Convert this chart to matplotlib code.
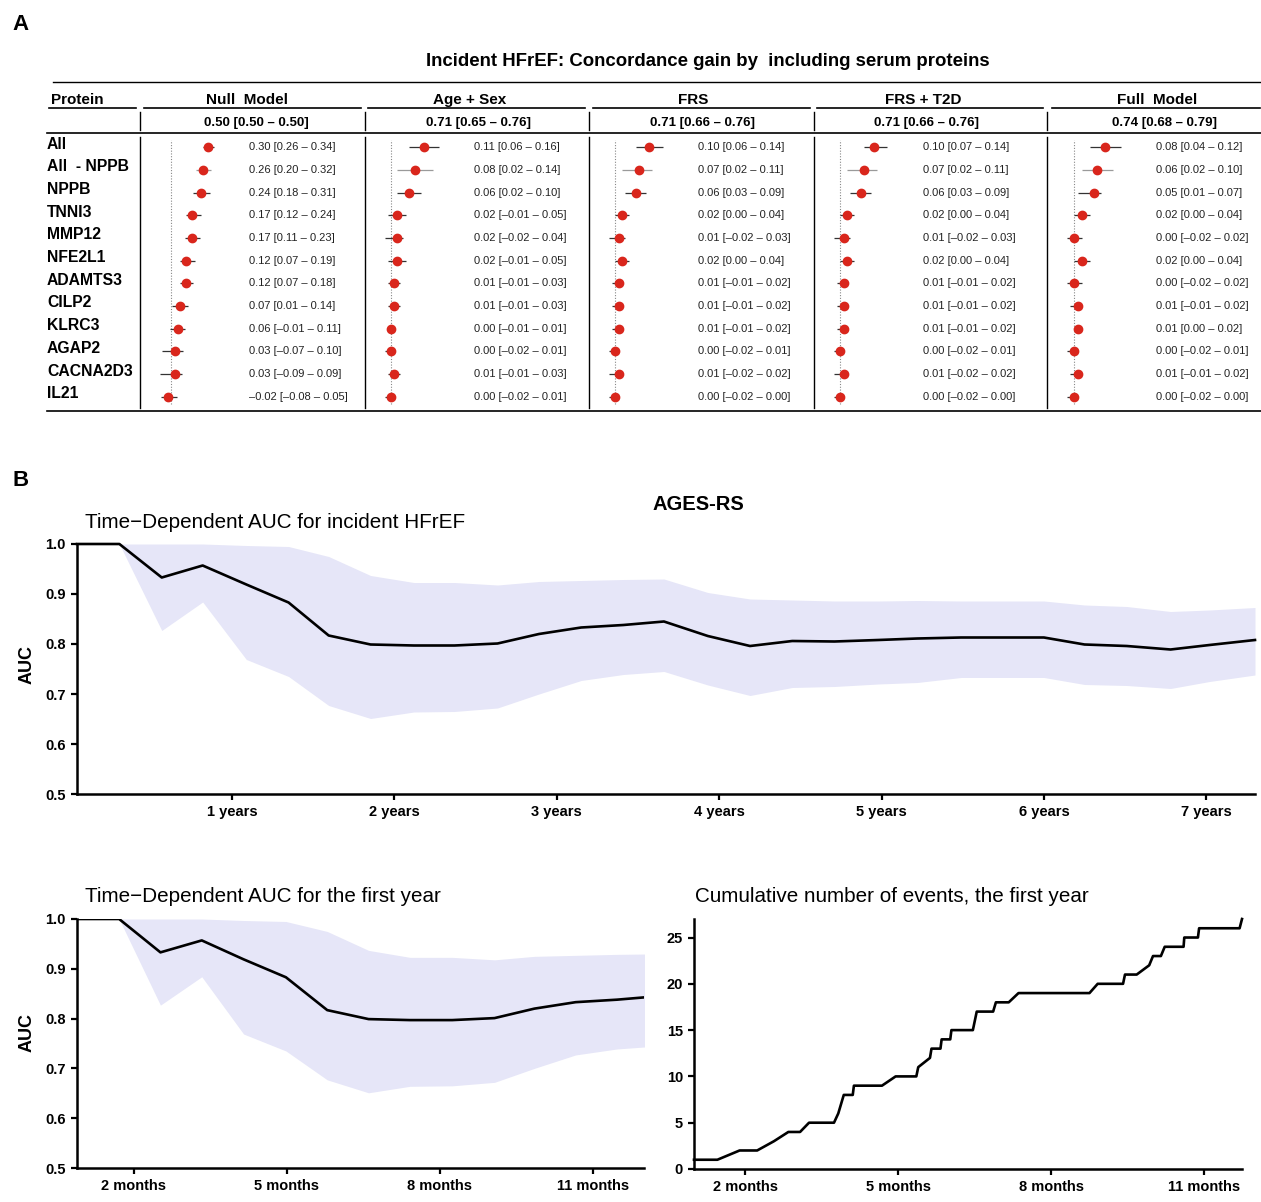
import matplotlib
matplotlib.use('Agg')
import matplotlib.pyplot as plt

W, H = 1261, 1202
DPI = 100
plt.rcParams['font.family'] = ['Liberation Sans', 'DejaVu Sans']

# ---------------- Panel A data ----------------
proteins = ['All', 'All  - NPPB', 'NPPB', 'TNNI3', 'MMP12', 'NFE2L1', 'ADAMTS3',
            'CILP2', 'KLRC3', 'AGAP2', 'CACNA2D3', 'IL21']
models = ['Null  Model', 'Age + Sex', 'FRS', 'FRS + T2D', 'Full  Model']
baseline = ['0.50 [0.50 – 0.50]', '0.71 [0.65 – 0.76]', '0.71 [0.66 – 0.76]',
            '0.71 [0.66 – 0.76]', '0.74 [0.68 – 0.79]']

null_est = [0.30, 0.26, 0.24, 0.17, 0.17, 0.12, 0.12, 0.07, 0.06, 0.03, 0.03, -0.02]
null_lo = [0.26, 0.20, 0.18, 0.12, 0.11, 0.07, 0.07, 0.01, -0.01, -0.07, -0.09, -0.08]
null_hi = [0.34, 0.32, 0.31, 0.24, 0.23, 0.19, 0.18, 0.14, 0.11, 0.10, 0.09, 0.05]

age_est = [0.11, 0.08, 0.06, 0.02, 0.02, 0.02, 0.01, 0.01, 0.00, 0.00, 0.01, 0.00]
age_lo = [0.06, 0.02, 0.02, -0.01, -0.02, -0.01, -0.01, -0.01, -0.01, -0.02, -0.01, -0.02]
age_hi = [0.16, 0.14, 0.10, 0.05, 0.04, 0.05, 0.03, 0.03, 0.01, 0.01, 0.03, 0.01]

frs_est = [0.10, 0.07, 0.06, 0.02, 0.01, 0.02, 0.01, 0.01, 0.01, 0.00, 0.01, 0.00]
frs_lo = [0.06, 0.02, 0.03, 0.00, -0.02, 0.00, -0.01, -0.01, -0.01, -0.02, -0.02, -0.02]
frs_hi = [0.14, 0.11, 0.09, 0.04, 0.03, 0.04, 0.02, 0.02, 0.02, 0.01, 0.02, 0.00]

t2d_est = [0.10, 0.07, 0.06, 0.02, 0.01, 0.02, 0.01, 0.01, 0.01, 0.00, 0.01, 0.00]
t2d_lo = [0.07, 0.02, 0.03, 0.00, -0.02, 0.00, -0.01, -0.01, -0.01, -0.02, -0.02, -0.02]
t2d_hi = [0.14, 0.11, 0.09, 0.04, 0.03, 0.04, 0.02, 0.02, 0.02, 0.01, 0.02, 0.00]

full_est = [0.08, 0.06, 0.05, 0.02, 0.00, 0.02, 0.00, 0.01, 0.01, 0.00, 0.01, 0.00]
full_lo = [0.04, 0.02, 0.01, 0.00, -0.02, 0.00, -0.02, -0.01, 0.00, -0.02, -0.01, -0.02]
full_hi = [0.12, 0.10, 0.07, 0.04, 0.02, 0.04, 0.02, 0.02, 0.02, 0.01, 0.02, 0.00]

# ---------------- Panel B data ----------------
auc_years = [0.045, 0.306, 0.567, 0.819, 1.088, 1.348, 1.595, 1.853, 2.12, 2.37,
             2.635, 2.89, 3.15, 3.41, 3.66, 3.93, 4.19, 4.45, 4.71, 4.98, 5.22,
             5.49, 5.75, 6.0, 6.25, 6.51, 6.78, 7.02, 7.30]
auc = [1.0, 1.0, 0.933, 0.957, 0.919, 0.883, 0.817, 0.799, 0.797, 0.797,
       0.801, 0.82, 0.833, 0.838, 0.845, 0.816, 0.796, 0.806, 0.805, 0.808, 0.811,
       0.813, 0.813, 0.813, 0.799, 0.796, 0.789, 0.798, 0.808]
auc_upper = [1.0, 1.0, 1.0, 1.0, 0.997, 0.995, 0.975, 0.937, 0.923, 0.923,
             0.918, 0.925, 0.927, 0.929, 0.930, 0.903, 0.89, 0.888, 0.886, 0.886, 0.887,
             0.886, 0.886, 0.886, 0.878, 0.875, 0.865, 0.868, 0.873]
auc_lower = [1.0, 1.0, 0.827, 0.884, 0.769, 0.735, 0.677, 0.651, 0.664, 0.665,
             0.672, 0.70, 0.727, 0.739, 0.745, 0.718, 0.697, 0.713, 0.715, 0.72, 0.723,
             0.733, 0.733, 0.733, 0.719, 0.717, 0.711, 0.725, 0.738]

# first-year view (months); the first 15 AUC points
fy_months = [0.884, 1.71, 2.52, 3.33, 4.15, 4.98, 5.79, 6.6, 7.41, 8.24,
             9.07, 9.85, 10.66, 11.47, 12.28]
fy_end = 12.0

# cumulative number of events in the first year
ev_months = [0.99, 1.449, 1.885, 2.23, 2.559, 2.842, 3.072, 3.248, 3.738, 3.822,
             3.876, 3.93, 4.106, 4.129, 4.68, 4.948, 5.354, 5.392, 5.622, 5.652,
             5.828, 5.851, 6.02, 6.043, 6.464, 6.54, 6.862, 6.916, 7.168, 7.36,
             8.753, 8.914, 9.412, 9.45, 9.68, 9.925, 10.0, 10.155, 10.23, 10.6,
             10.614, 10.882, 10.905, 11.70, 11.747]
ev_count = [1, 1, 2, 2, 3, 4, 4, 5, 5, 6,
            7, 8, 8, 9, 9, 10, 10, 11, 12, 13,
            13, 14, 14, 15, 15, 17, 17, 18, 18, 19,
            19, 20, 20, 21, 21, 22, 23, 23, 24, 24,
            25, 25, 26, 26, 27]

year_ticks = [1, 2, 3, 4, 5, 6, 7]
month_ticks = [2, 5, 8, 11]
auc_ticks = [0.5, 0.6, 0.7, 0.8, 0.9, 1.0]
ev_ticks = [0, 5, 10, 15, 20, 25]

# ---------------- helpers ----------------
fig = plt.figure(figsize=(W / DPI, H / DPI), dpi=DPI)

def px_axes(l, t, r, b):
    return fig.add_axes([l / W, 1 - b / H, (r - l) / W, (b - t) / H])

# overlay axes in pixel coordinates for table text and rules
ov = fig.add_axes([0, 0, 1, 1])
ov.set_xlim(0, W)
ov.set_ylim(H, 0)
ov.axis('off')

def fmt(v):
    s = f'{v:.2f}'
    return s.replace('-', '–')

# ---------------- Panel A ----------------
ov.text(12, 24, 'A', fontsize=16, fontweight='bold', va='center', ha='left')
ov.text(708, 61, 'Incident HFrEF: Concordance gain by  including serum proteins',
        fontsize=13.4, fontweight='bold', ha='center', va='center')

col_left = [140, 365, 589, 814, 1047]
col_right = [365, 589, 814, 1047, 1261]
under_l = [144, 368, 593, 817, 1052]
under_r = [361, 585, 810, 1043, 1260]
head_x = [247, 470, 693, 923, 1157]
base_x = [256, 479, 702, 926, 1165]

row0 = 147.3
dy = 22.67
nrow = len(proteins)
rows_top = row0 - dy / 2
rows_bot = row0 + dy * (nrow - 1) + dy / 2

# rules
ov.plot([53, W], [82, 82], color='black', lw=1.0)
ov.plot([49, 136], [108, 108], color='black', lw=1.2)
for l, r in zip(under_l, under_r):
    ov.plot([l, r], [108, 108], color='black', lw=1.2)
ov.plot([47, W], [133, 133], color='black', lw=1.2)
ov.plot([47, W], [411, 411], color='black', lw=1.2)
for x in col_left:
    ov.plot([x, x], [112, 130], color='black', lw=1.0)
    ov.plot([x, x], [137, 408], color='black', lw=1.0)

ov.text(51, 100, 'Protein', fontsize=11, fontweight='bold', ha='left', va='center')
for j, m in enumerate(models):
    ov.text(head_x[j], 100, m, fontsize=11, fontweight='bold', ha='center', va='center')
    ov.text(base_x[j], 122.7, baseline[j], fontsize=9.5, fontweight='bold',
            ha='center', va='center')

for i, p in enumerate(proteins):
    ov.text(47, row0 + i * dy - 3, p, fontsize=11.3, fontweight='bold',
            ha='left', va='center')

series = [(null_est, null_lo, null_hi), (age_est, age_lo, age_hi),
          (frs_est, frs_lo, frs_hi), (t2d_est, t2d_lo, t2d_hi),
          (full_est, full_lo, full_hi)]
dot_color = '#D9261C'
for j, (est, lo, hi) in enumerate(series):
    left = col_left[j] + 19.5
    fa = px_axes(left, rows_top, left + 54, rows_bot)
    fa.axis('off')
    fa.set_xlim(min(lo), max(hi))
    fa.set_ylim(nrow - 0.5, -0.5)
    fa.axvline(0, ymin=0.015, ymax=0.985, color='#888888', lw=0.8, ls=(0, (1, 1.5)))
    for i in range(nrow):
        c = '#9a9a9a' if i == 1 else '#333333'
        fa.plot([lo[i], hi[i]], [i, i], color=c, lw=0.9, clip_on=False,
                solid_capstyle='butt')
        fa.plot(est[i], i, 'o', color=dot_color, ms=6, mec=dot_color, clip_on=False)
        lab = f'{fmt(est[i])} [{fmt(lo[i])} – {fmt(hi[i])}]'
        ov.text(col_left[j] + 109, row0 + i * dy, lab, fontsize=8, color='#222222',
                ha='left', va='center')

# ---------------- Panel B ----------------
ov.text(12, 481, 'B', fontsize=16, fontweight='bold', va='center', ha='left')
ov.text(698, 505, 'AGES-RS', fontsize=14.5, fontweight='bold', ha='center', va='center')

def style(ax):
    for s in ['top', 'right']:
        ax.spines[s].set_visible(False)
    for s in ['left', 'bottom']:
        ax.spines[s].set_linewidth(1.8)
    ax.tick_params(axis='both', length=4, width=1.6, labelsize=10.5, pad=4)
    for lab in ax.get_xticklabels() + ax.get_yticklabels():
        lab.set_fontweight('bold')

band = '#E6E6F8'

# top AUC plot
a1 = px_axes(77, 544, 1255, 794)
a1.fill_between(auc_years, auc_lower, auc_upper, color=band, lw=0)
a1.plot(auc_years, auc, color='black', lw=1.9, clip_on=False)
a1.set_xlim(auc_years[0], auc_years[-1])
a1.set_ylim(0.5, 1.0)
a1.set_xticks(year_ticks)
a1.set_xticklabels([f'{t} years' for t in year_ticks])
a1.set_yticks(auc_ticks)
a1.set_yticklabels([f'{t:.1f}' for t in auc_ticks])
style(a1)
ov.text(85, 522, 'Time−Dependent AUC for incident HFrEF', fontsize=14.9,
        ha='left', va='center')
ov.text(27, 665, 'AUC', fontsize=13, fontweight='bold', rotation=90,
        ha='center', va='center')

# first-year AUC plot
n_fy = len(fy_months)
a2 = px_axes(77, 919, 644, 1168)
a2.fill_between(fy_months, auc_lower[:n_fy], auc_upper[:n_fy], color=band, lw=0)
a2.plot(fy_months, auc[:n_fy], color='black', lw=1.9)
a2.set_xlim(fy_months[0], fy_end)
a2.set_ylim(0.5, 1.0)
a2.set_xticks(month_ticks)
a2.set_xticklabels([f'{t} months' for t in month_ticks])
a2.set_yticks(auc_ticks)
a2.set_yticklabels([f'{t:.1f}' for t in auc_ticks])
style(a2)
ov.text(85, 896, 'Time−Dependent AUC for the first year', fontsize=14.9,
        ha='left', va='center')
ov.text(27, 1032, 'AUC', fontsize=13, fontweight='bold', rotation=90,
        ha='center', va='center')

# cumulative events
a3 = px_axes(694, 919, 1242, 1169)
a3.plot(ev_months, ev_count, color='black', lw=1.9, clip_on=False)
a3.set_xlim(ev_months[0], ev_months[-1])
a3.set_ylim(0, max(ev_count))
a3.set_xticks(month_ticks)
a3.set_xticklabels([f'{t} months' for t in month_ticks])
a3.set_yticks(ev_ticks)
style(a3)
ov.text(695, 896, 'Cumulative number of events, the first year', fontsize=14.9,
        ha='left', va='center')

fig.savefig('out.png', dpi=DPI)
